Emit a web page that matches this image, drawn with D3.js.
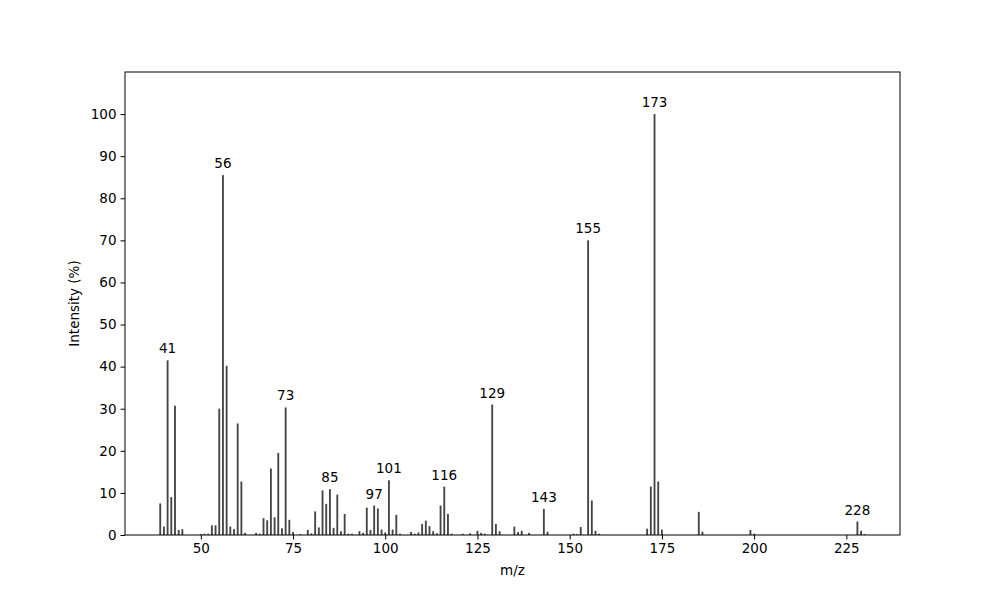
<!DOCTYPE html>
<html>
<head>
<meta charset="utf-8">
<script src="https://cdn.jsdelivr.net/npm/d3@7"></script>
<style>
	body { margin: 0; background: #fff; }
	text { font-family: 'DejaVu Sans', sans-serif; }
</style>
</head>
<body>
<svg id="chart" width="1000" height="600"></svg>
<script>
// m/z values and relative intensities
const mz = [39, 40, 41, 42, 43, 44, 45, 50, 51, 52, 53, 54, 55, 56, 57, 58, 59, 60, 61, 62,
	65, 66, 67, 68, 69, 70, 71, 72, 73, 74, 75, 77, 79, 80, 81, 82, 83, 84, 85, 86, 87, 88, 89, 90, 91,
	93, 94, 95, 96, 97, 98, 99, 100, 101, 102, 103, 104, 107, 108, 109, 110, 111, 112, 113, 114,
	115, 116, 117, 118, 121, 123, 125, 126, 127, 129, 130, 131, 135, 136, 137, 139, 143, 144,
	151, 152, 153, 155, 156, 157, 158, 171, 172, 173, 174, 175, 185, 186, 199, 200, 228, 229, 230];
const intensity = [7.5, 2, 41.5, 9, 30.7, 1.2, 1.4, 0.2, 0.3, 0.3, 2.3, 2.3, 30, 85.5, 40.2, 2, 1.4, 26.5, 12.7, 0.5,
	0.5, 0.3, 4, 3.5, 15.8, 4.2, 19.5, 1.6, 30.3, 3.6, 0.7, 0.2, 1.2, 0.4, 5.6, 1.8, 10.6, 7.4, 10.9, 1.7, 9.6, 0.9, 5.0, 0.3, 0.3,
	0.9, 0.5, 6.5, 1.2, 7.0, 6.3, 1.3, 0.6, 13, 1.3, 4.8, 0.3, 0.7, 0.3, 0.6, 2.6, 3.4, 2.1, 0.9, 0.4,
	7, 11.5, 5, 0.3, 0.3, 0.4, 1, 0.5, 0.3, 31, 2.6, 0.9, 2, 0.7, 1, 0.5, 6.2, 0.8,
	0.3, 0.2, 1.9, 70, 8.2, 1, 0.3, 1.5, 11.5, 100, 12.7, 1.3, 5.5, 0.8, 1.2, 0.3, 3.2, 1, 0.2];
const labelled = [41, 56, 73, 85, 97, 101, 116, 129, 143, 155, 173, 228];
const xTicks = [50, 75, 100, 125, 150, 175, 200, 225];
const yTicks = [0, 10, 20, 30, 40, 50, 60, 70, 80, 90, 100];

const data = mz.map((m, i) => ({ mz: m, v: intensity[i] }));
const plotLeft = 125, plotRight = 900, plotTop = 72, plotBottom = 535;

const svg = d3.select('#chart');
const x = d3.scaleLinear().domain([29.45, 239.55]).range([plotLeft, plotRight]);
const y = d3.scaleLinear().domain([0, 110]).range([plotBottom, plotTop]);

// bars
svg.append('g').selectAll('rect')
	.data(data)
	.join('rect')
		.attr('x', d => x(d.mz - 0.25))
		.attr('width', x(0.5) - x(0))
		.attr('y', d => y(d.v))
		.attr('height', d => y(0) - y(d.v))
		.attr('fill', '#444');

// peak labels
svg.append('g').selectAll('text')
	.data(data.filter(d => labelled.includes(d.mz)))
	.join('text')
		.attr('x', d => x(d.mz))
		.attr('y', d => y(d.v) - 7)
		.attr('text-anchor', 'middle')
		.style('font-size', '13.5px')
		.text(d => d.mz);

// axes
const gx = svg.append('g')
	.attr('transform', `translate(0,${plotBottom})`)
	.call(d3.axisBottom(x).tickValues(xTicks).tickSize(4.5).tickPadding(4));
const gy = svg.append('g')
	.attr('transform', `translate(${plotLeft},0)`)
	.call(d3.axisLeft(y).tickValues(yTicks).tickSize(4.5).tickPadding(4));
[gx, gy].forEach(g => {
	g.select('.domain').remove();
	g.selectAll('text').style('font-size', '13.5px').attr('font-family', 'DejaVu Sans');
});

svg.append('rect')
	.attr('x', plotLeft).attr('y', plotTop)
	.attr('width', plotRight - plotLeft).attr('height', plotBottom - plotTop)
	.attr('fill', 'none').attr('stroke', '#000').attr('stroke-width', 1);

svg.append('text')
	.attr('x', (plotLeft + plotRight) / 2).attr('y', 575)
	.attr('text-anchor', 'middle').style('font-size', '13.5px')
	.text('m/z');
svg.append('text')
	.attr('transform', `translate(79,${(plotTop + plotBottom) / 2}) rotate(-90)`)
	.attr('text-anchor', 'middle').style('font-size', '13.5px')
	.text('Intensity (%)');
</script>
</body>
</html>
